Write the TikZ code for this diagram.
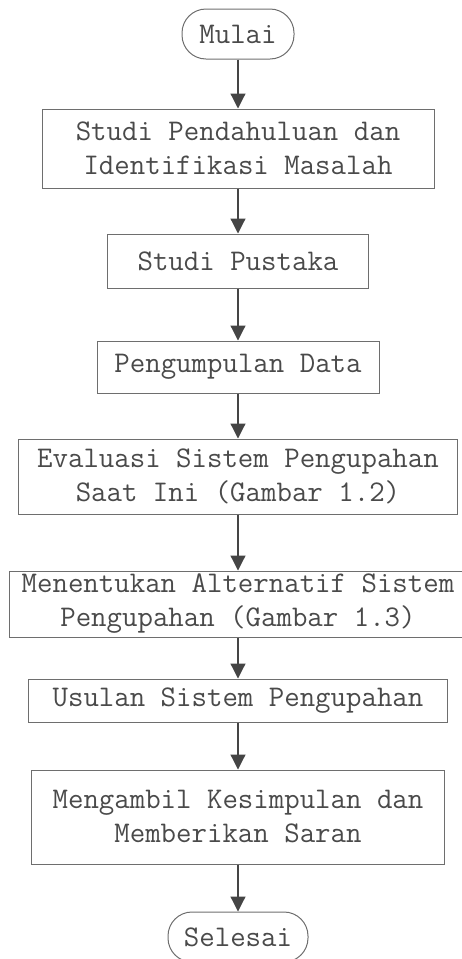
\documentclass[tikz,border=0pt]{standalone}
\usetikzlibrary{arrows.meta}
\definecolor{linegray}{HTML}{6E6E6E}
\definecolor{textgray}{HTML}{4A4A4A}
\definecolor{arrowgray}{HTML}{454545}
\begin{document}
\begin{tikzpicture}[x=1pt,y=-1pt,
  box/.style={draw=linegray, line width=1pt, rectangle, inner sep=0pt, align=center,
    font=\fontsize{30pt}{34pt}\selectfont\ttfamily, text=textgray},
  term/.style={box, rounded corners=24pt},
  flow/.style={draw=arrowgray, line width=1.2pt, -{Triangle[length=15pt,width=15pt]}}]
\useasboundingbox (0,0) rectangle (462,959);
\node[term, minimum width=112pt, minimum height=50pt] (start) at (238,34) {Mulai};
\node[box, minimum width=392pt, minimum height=79pt] (b1) at (238,148.5) {Studi Pendahuluan dan\\Identifikasi Masalah};
\node[box, minimum width=261pt, minimum height=54pt] (b2) at (238,261) {Studi Pustaka};
\node[box, minimum width=282pt, minimum height=52pt] (b3) at (238,367) {Pengumpulan Data};
\node[box, minimum width=439pt, minimum height=75pt] (b4) at (238,476.5) {Evaluasi Sistem Pengupahan\\Saat Ini (Gambar 1.2)};
\node[box, minimum width=458pt, minimum height=66pt] (b5) at (238,604) {Menentukan Alternatif Sistem\\Pengupahan (Gambar 1.3)};
\node[box, minimum width=419pt, minimum height=43pt] (b6) at (238,700.5) {Usulan Sistem Pengupahan};
\node[box, minimum width=413pt, minimum height=94pt] (b7) at (238,817) {Mengambil Kesimpulan dan\\Memberikan Saran};
\node[term, minimum width=140pt, minimum height=50pt] (end) at (238,937) {Selesai};
\draw[flow] (start) -- (b1);
\draw[flow] (b1) -- (b2);
\draw[flow] (b2) -- (b3);
\draw[flow] (b3) -- (b4);
\draw[flow] (b4) -- (b5);
\draw[flow] (b5) -- (b6);
\draw[flow] (b6) -- (b7);
\draw[flow] (b7) -- (end);
\end{tikzpicture}
\end{document}
